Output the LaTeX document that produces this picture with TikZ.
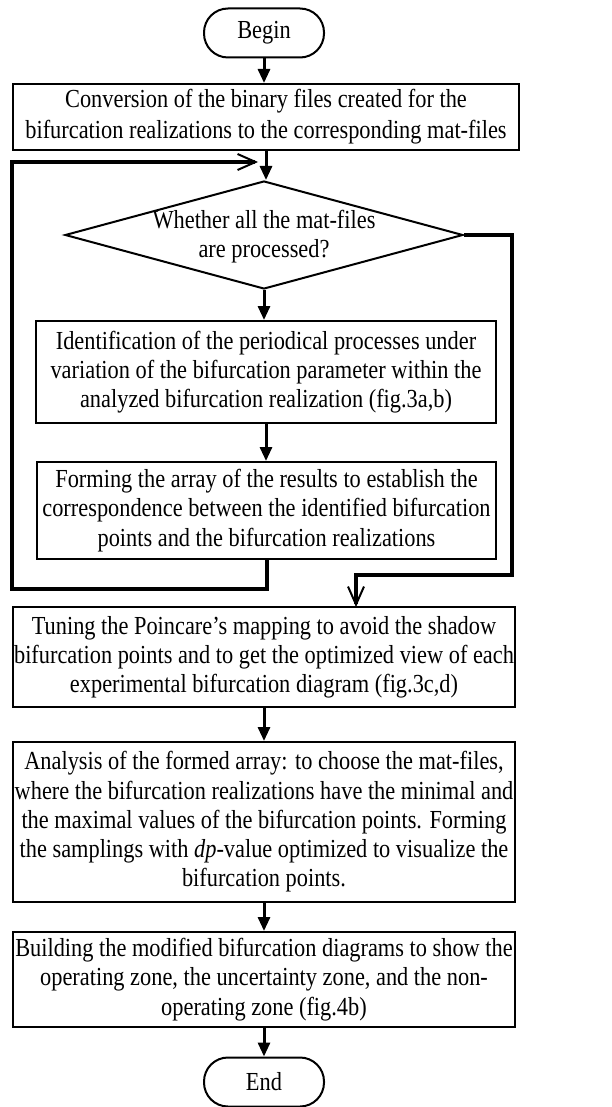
\documentclass[tikz,border=0pt]{standalone}
\usepackage{fontspec}
\setmainfont[FakeStretch=0.86]{Liberation Serif}
\usetikzlibrary{arrows.meta}
\usetikzlibrary{shapes.geometric}

\begin{document}
\begin{tikzpicture}[x=0.5pt,y=-0.5pt,
  font=\fontsize{13}{14.6}\selectfont,
  box/.style={draw,line width=1pt,align=center,inner sep=0pt},
  term/.style={draw,line width=1pt,rounded corners=12pt,minimum width=60pt,minimum height=24.5pt},
  flow/.style={line width=1.5pt,-{Triangle[length=7pt,width=6pt]}},
  back/.style={line width=2pt,-{Straight Barb[length=9pt,width=8pt,line width=1pt]}}]
\useasboundingbox (0,0) rectangle (611,1107);
\node [term] (begin) at (264,33) {Begin};
\node [box,minimum width=253pt,minimum height=33pt] (conv) at (266,117) {Conversion of the binary files created for the\\[1pt]bifurcation realizations to the corresponding mat-files};
\node [diamond,draw,line width=1pt,minimum width=199pt,minimum height=54pt,inner sep=0pt] (check) at (264,235) {};
\node [align=center] (checktxt) at (264,237) {Whether all the mat-files\\are processed?};
\node [box,minimum width=230pt,minimum height=51pt] (ident) at (266,372) {Identification of the periodical processes under\\variation of the bifurcation parameter within the\\analyzed bifurcation realization (fig.3a,b)};
\node [box,minimum width=229.5pt,minimum height=48.5pt] (form) at (266.5,510.5) {Forming the array of the results to establish the\\correspondence between the identified bifurcation\\points and the bifurcation realizations};
\node [box,minimum width=251pt,minimum height=50pt] (tune) at (264,657) {Tuning the Poincare's mapping to avoid the shadow\\bifurcation points and to get the optimized view of each\\experimental bifurcation diagram (fig.3c,d)};
\node [box,minimum width=251pt,minimum height=80pt] (anal) at (264,822) {Analysis of the formed array: to choose the mat-files,\\where the bifurcation realizations have the minimal and\\the maximal values of the bifurcation points. Forming\\the samplings with \textit{dp}-value optimized to visualize the\\bifurcation points.};
\node [box,minimum width=251pt,minimum height=47.5pt] (build) at (264,979.5) {Building the modified bifurcation diagrams to show the\\operating zone, the uncertainty zone, and the non-\\operating zone (fig.4b)};
\node [term] (finish) at (264,1082) {End};
\draw [flow] (begin.south) -- (begin.south |- conv.north);
\draw [flow] (conv.south) -- (conv.south |- check.north);
\draw [flow] (check.south) -- (check.south |- ident.north);
\draw [flow] (ident.south) -- (ident.south |- form.north);
\draw [flow] (tune.south) -- (tune.south |- anal.north);
\draw [flow] (anal.south) -- (anal.south |- build.north);
\draw [flow] (build.south) -- (build.south |- finish.north);
\coordinate (loopin) at (258,162);
\coordinate (tunein) at (356,607);
\draw [back] (form.south) -- ++(0,29) -| (12,162) -- (loopin);
\draw [back] (check.east) -| (512,575) -| (tunein);
\end{tikzpicture}
\end{document}
